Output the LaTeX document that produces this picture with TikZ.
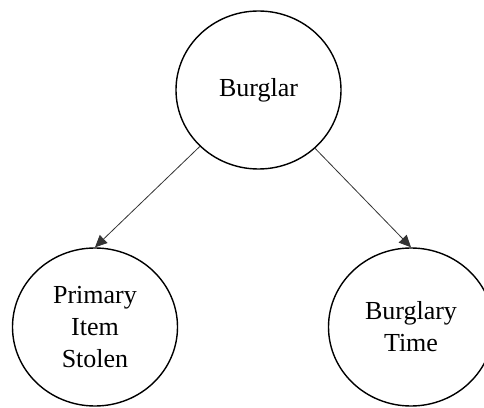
\documentclass[tikz,border=0pt]{standalone}
\usepackage{fontspec}
\setmainfont{Liberation Serif}
\usetikzlibrary{shapes.geometric,arrows.meta}
\begin{document}
\begin{tikzpicture}[x=1pt,y=1pt,
  state/.style={draw=black,line width=1.4pt,ellipse,minimum width=165pt,minimum height=158pt,inner sep=0pt,align=center,font=\fontsize{26}{32}\selectfont},
  link/.style={draw=black!80,line width=0.8pt,-{Triangle[length=12pt,width=11pt]}}]
\useasboundingbox (0,0) rectangle (484,407);
\node[state] (burglar) at (258.5,317) {Burglar};
\node[state] (item) at (95,80) {Primary\\Item\\Stolen};
\node[state] (time) at (411,80) {Burglary\\Time};
\draw[link] (burglar) -- (item.north);
\draw[link] (burglar) -- (time.north);
\end{tikzpicture}
\end{document}
